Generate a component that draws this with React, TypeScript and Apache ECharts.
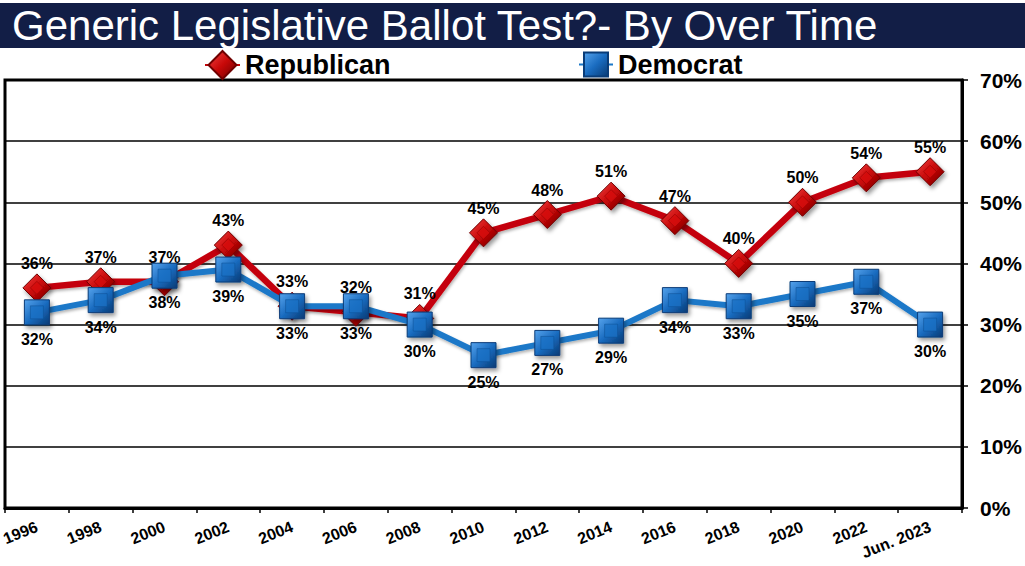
import { useEffect, useRef } from "react";
import * as echarts from "echarts";

const categories = [
  "1996", "1998", "2000", "2002", "2004", "2006", "2008", "2010",
  "2012", "2014", "2016", "2018", "2020", "2022", "Jun. 2023",
];
const republican = [36, 37, 37, 43, 33, 32, 31, 45, 48, 51, 47, 40, 50, 54, 55];
const democrat = [32, 34, 38, 39, 33, 33, 30, 25, 27, 29, 34, 33, 35, 37, 30];
const titleText = "Generic Legislative Ballot Test?- By Over Time";

const FONT = "'Liberation Sans', Arial, Helvetica, sans-serif";

export default function App() {
  const ref = useRef<HTMLDivElement>(null);

  useEffect(() => {
    if (!ref.current) return;
    const chart = echarts.init(ref.current, null, { renderer: "svg" });

    const redOuter = new echarts.graphic.LinearGradient(0, 0, 1, 1, [
      { offset: 0, color: "#f24545" },
      { offset: 0.5, color: "#c80808" },
      { offset: 1, color: "#6a0000" },
    ]);
    const blueOuter = new echarts.graphic.LinearGradient(0, 0, 1, 1, [
      { offset: 0, color: "#56a3ec" },
      { offset: 0.5, color: "#1a6cc0" },
      { offset: 1, color: "#083a74" },
    ]);

    const labelBase = {
      show: true,
      formatter: "{c}%",
      fontSize: 16,
      fontWeight: "bold" as const,
      color: "#000",
      fontFamily: FONT,
    };
    const markerShadow = {
      shadowColor: "rgba(0,0,0,0.4)",
      shadowBlur: 4,
      shadowOffsetX: 2,
      shadowOffsetY: 3,
    };

    chart.setOption({
      animation: false,
      backgroundColor: "#ffffff",
      textStyle: { fontFamily: FONT },
      graphic: [
        {
          type: "rect",
          z: 0,
          shape: { x: 0, y: 3, width: 1025, height: 45 },
          style: { fill: "#121e46" },
        },
      ],
      title: {
        text: titleText,
        left: 12,
        top: 4,
        padding: 0,
        z: 10,
        textStyle: {
          color: "#ffffff",
          fontSize: 42,
          fontWeight: "normal",
          fontFamily: FONT,
        },
      },
      legend: [
        {
          data: ["Republican"],
          left: 204,
          top: 50,
          padding: 0,
          itemWidth: 35,
          itemHeight: 35,
          textStyle: { fontSize: 27, fontWeight: "bold", color: "#000", fontFamily: FONT },
        },
        {
          data: ["Democrat"],
          left: 578,
          top: 51,
          padding: 0,
          itemWidth: 34,
          itemHeight: 30,
          textStyle: { fontSize: 27, fontWeight: "bold", color: "#000", fontFamily: FONT },
        },
      ],
      grid: {
        left: 5,
        right: 63,
        top: 80,
        bottom: 58,
        show: true,
        borderColor: "#000",
        borderWidth: 3,
        containLabel: false,
        outerBoundsMode: "none",
      },
      xAxis: {
        type: "category",
        data: categories,
        boundaryGap: true,
        axisLine: { lineStyle: { color: "#000", width: 3 } },
        axisTick: { show: true, length: 5, lineStyle: { color: "#000", width: 1.5 } },
        axisLabel: {
          interval: 0,
          rotate: 22,
          margin: 18,
          fontSize: 16,
          fontWeight: "bold",
          color: "#000",
          fontFamily: FONT,
        },
        splitLine: { show: false },
      },
      yAxis: {
        type: "value",
        position: "right",
        min: 0,
        max: 70,
        interval: 10,
        axisLine: { show: true, lineStyle: { color: "#000", width: 3 } },
        axisTick: { show: true, length: 6, lineStyle: { color: "#000", width: 1.5 } },
        axisLabel: {
          formatter: "{value}%",
          margin: 18,
          fontSize: 21,
          fontWeight: "bold",
          color: "#000",
          fontFamily: FONT,
        },
        splitLine: { show: true, lineStyle: { color: "#000", width: 1.5 } },
      },
      series: [
        {
          name: "Republican",
          type: "line",
          data: republican,
          z: 2,
          symbol: "diamond",
          symbolSize: 28,
          lineStyle: {
            color: "#c4060a",
            width: 6.5,
            shadowColor: "rgba(0,0,0,0.3)",
            shadowBlur: 3,
            shadowOffsetX: 1,
            shadowOffsetY: 2,
          },
          itemStyle: { color: redOuter, borderColor: "#700000", borderWidth: 1, ...markerShadow },
          label: { ...labelBase, position: "top", distance: 2 },
        },
        {
          name: "RepublicanBevel",
          type: "scatter",
          data: republican,
          z: 3,
          silent: true,
          symbol: "diamond",
          symbolSize: 13,
          itemStyle: { color: "#d60c0c", borderColor: "#8a0000", borderWidth: 0.6 },
          label: { show: false },
        },
        {
          name: "Democrat",
          type: "line",
          data: democrat,
          z: 4,
          symbol: "rect",
          symbolSize: 25,
          lineStyle: {
            color: "#1b78c8",
            width: 6,
            shadowColor: "rgba(0,0,0,0.3)",
            shadowBlur: 3,
            shadowOffsetX: 1,
            shadowOffsetY: 2,
          },
          itemStyle: { color: blueOuter, borderColor: "#093c78", borderWidth: 1, ...markerShadow },
          label: { ...labelBase, position: "bottom", distance: 6 },
        },
        {
          name: "DemocratBevel",
          type: "scatter",
          data: democrat,
          z: 5,
          silent: true,
          symbol: "rect",
          symbolSize: 13,
          itemStyle: { color: "#1a70c4", borderColor: "#0c4d92", borderWidth: 0.6 },
          label: { show: false },
        },
      ],
    });

    return () => chart.dispose();
  }, []);

  return (
    <div
      ref={ref}
      style={{ position: "fixed", left: 0, top: 0, width: 1025, height: 566, background: "#fff" }}
    />
  );
}
